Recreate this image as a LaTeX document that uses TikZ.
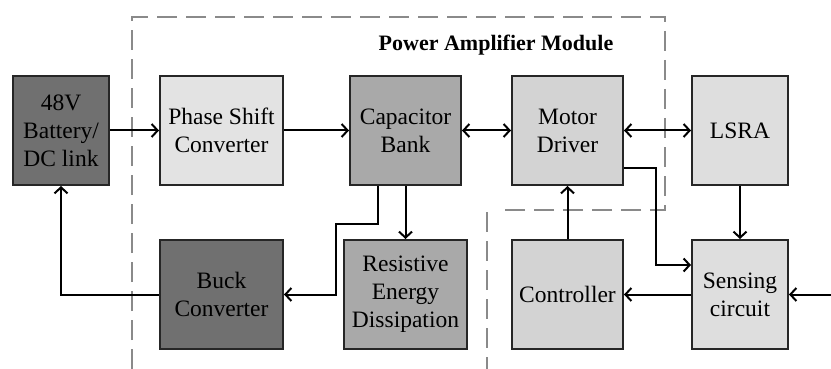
\documentclass[tikz,border=0pt]{standalone}
\usepackage{fontspec}
\setmainfont{Liberation Serif}
\usetikzlibrary{arrows.meta}
\definecolor{cdark}{HTML}{707070}
\definecolor{cmid}{HTML}{A9A9A9}
\definecolor{clight}{HTML}{E3E3E3}
\definecolor{cmd}{HTML}{D3D3D3}
\definecolor{cls}{HTML}{DEDEDE}
\definecolor{cdash}{HTML}{8A8A8A}
\begin{document}
\begin{tikzpicture}[x=1pt,y=-1pt,
  blk/.style={draw=black!85, line width=2pt, inner sep=0pt, minimum height=109pt, align=center,
    font=\fontsize{23.5}{28}\selectfont},
  conn/.style={line width=2pt, -{Straight Barb[length=6pt,width=13pt]}},
  conn2/.style={line width=2pt, {Straight Barb[length=6pt,width=13pt]}-{Straight Barb[length=6pt,width=13pt]}},
  frame/.style={draw=cdash, line width=1.6pt, dash pattern=on 20pt off 9pt}
]
\useasboundingbox (0,0) rectangle (831,369);
\fill[white] (0,0) rectangle (831,369);
% dashed module frame
\draw[frame] (132,369) -- (132,17) -- (665,17) -- (665,210) -- (497,210);
\draw[frame] (487,212) -- (487,369);
\node[font=\fontsize{22}{26}\selectfont\bfseries] (title) at (496,45) {Power Amplifier Module};
% blocks
\node[blk, fill=cdark, minimum width=96pt] (bat) at (61,130.5) {48V\\Battery/\\DC link};
\node[blk, fill=clight, minimum width=123pt] (ps) at (221.5,130.5) {Phase Shift\\Converter};
\node[blk, fill=cmid, minimum width=111pt] (cap) at (405.5,130.5) {Capacitor\\Bank};
\node[blk, fill=cmd, minimum width=111pt] (md) at (567.5,130.5) {Motor\\Driver};
\node[blk, fill=cls, minimum width=96pt] (lsra) at (740,130.5) {LSRA};
\node[blk, fill=cdark, minimum width=123pt] (buck) at (221.5,294.5) {Buck\\Converter};
\node[blk, fill=cmid, minimum width=123pt] (res) at (405.5,294.5) {Resistive\\Energy\\Dissipation};
\node[blk, fill=cmd, minimum width=111pt] (ctrl) at (567.5,294.5) {Controller};
\node[blk, fill=cls, minimum width=96pt] (sens) at (740,294.5) {Sensing\\circuit};
\coordinate (ext) at (831,294.5);
% connectors
\draw[conn] (bat.east) -- (ps.west);
\draw[conn] (ps.east) -- (cap.west);
\draw[conn2] (cap.east) -- (md.west);
\draw[conn2] (md.east) -- (lsra.west);
\draw[conn] (lsra.south) -- (sens.north);
\draw[conn] (cap.south) -- (res.north);
\draw[conn] ([xshift=-27.5pt]cap.south) -- ++(0,38) -- ++(-42,0) |- (buck.east);
\draw[conn] (buck.west) -| (bat.south);
\draw[conn] ([yshift=-37.5pt]md.east) -- ++(32,0) |- ([yshift=29.5pt]sens.west);
\draw[conn] (ctrl.north) -- (md.south);
\draw[conn] (sens.west) -- (ctrl.east);
\draw[conn] (ext) -- (sens.east);
\end{tikzpicture}
\end{document}
